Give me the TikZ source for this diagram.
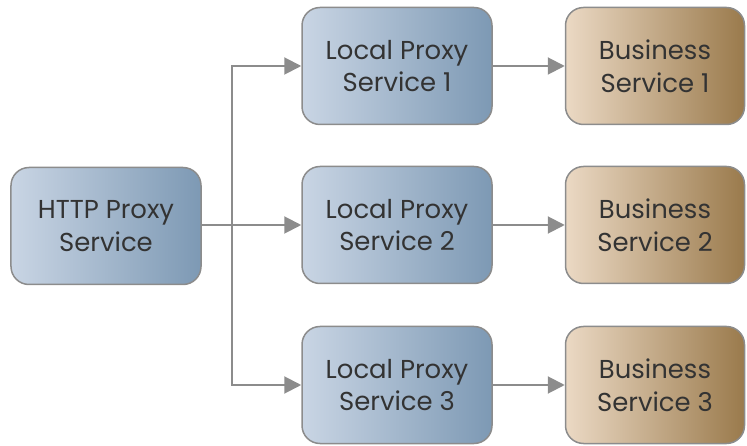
\documentclass[tikz,border=0pt]{standalone}
\usepackage{fontspec}
\setmainfont{Poppins}
\usetikzlibrary{arrows.meta}

\definecolor{proxyleft}{HTML}{C9D5E4}
\definecolor{proxyright}{HTML}{7D99B4}
\definecolor{bizleft}{HTML}{EBD9C4}
\definecolor{bizright}{HTML}{9A7A4C}
\definecolor{linegray}{HTML}{8C8C8C}

\tikzset{
  proxybox/.style={draw=linegray, line width=1.5bp, rounded corners=18bp,
    left color=proxyleft, right color=proxyright,
    minimum width=190bp, minimum height=117bp, align=center,
    font=\fontsize{26}{33}\selectfont, text=black!80},
  bizbox/.style={proxybox, minimum width=179bp,
    left color=bizleft, right color=bizright},
  link/.style={draw=linegray, line width=2bp, -{Triangle[length=17bp,width=17bp]}}
}

\begin{document}
\begin{tikzpicture}[x=1bp, y=-1bp]
            \useasboundingbox (0,0) rectangle (747,446);

            % Nodes
            \node[proxybox] (http) at (106,226) {HTTP Proxy\\Service};
            \node[proxybox] (lp1) at (397,66) {Local Proxy\\Service 1};
            \node[proxybox] (lp2) at (397,225) {Local Proxy\\Service 2};
            \node[proxybox] (lp3) at (397,385) {Local Proxy\\Service 3};
            \node[bizbox] (bs1) at (655,66) {Business\\Service 1};
            \node[bizbox] (bs2) at (655,225) {Business\\Service 2};
            \node[bizbox] (bs3) at (655,385) {Business\\Service 3};

            % Fan out from the HTTP proxy
            \coordinate (fork) at (232,225);
            \draw[link] (http.east |- fork) -- (lp2.west);
            \draw[link] (fork) |- (lp1.west);
            \draw[link] (fork) |- (lp3.west);

            % Local to business
            \foreach \i in {1,2,3}
                \draw[link] (lp\i.east) -- (bs\i.west);
        \end{tikzpicture}
\end{document}
